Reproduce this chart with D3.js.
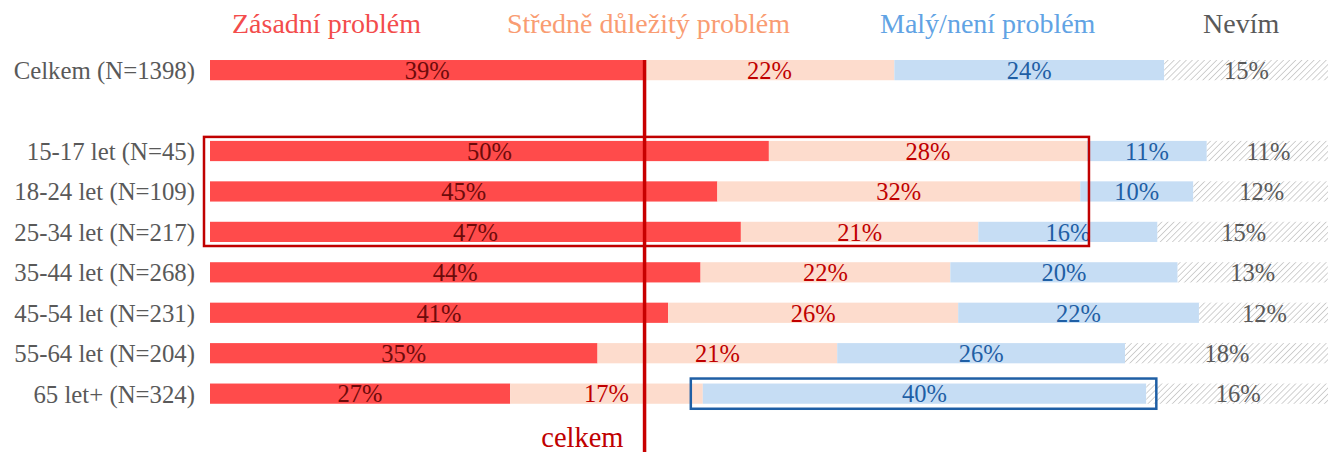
<!DOCTYPE html>
<html><head><meta charset="utf-8">
<script src="https://cdn.jsdelivr.net/npm/d3@7"></script>
<style>
html,body{margin:0;padding:0;background:#fff;}
svg{display:block;font-family:"Liberation Serif","Times New Roman",serif;}
</style></head>
<body><svg id="chart" width="1328" height="452"></svg>
<script>
// ---- data ----
const categories = ["Celkem (N=1398)", "", "15-17 let (N=45)", "18-24 let (N=109)", "25-34 let (N=217)",
  "35-44 let (N=268)", "45-54 let (N=231)", "55-64 let (N=204)", "65 let+ (N=324)"];
const seriesNames = ["Zásadní problém", "Středně důležitý problém", "Malý/není problém", "Nevím"];
const zasadni  = [38.8, null, 49.9, 45.3, 47.4, 43.8, 40.9, 34.6, 26.8];
const stredne  = [22.3, null, 28.4, 32.4, 21.2, 22.3, 25.9, 21.4, 17.2];
const maly     = [24.1, null, 10.7, 10.1, 16.0, 20.3, 21.5, 25.7, 39.6];
const nevim    = [14.7, null, 11.0, 12.2, 15.4, 13.4, 11.8, 18.2, 16.4];
const refLabel = "celkem";

// ---- style ----
const barColors   = ["#ff4b4b", "#fddccd", "#c6ddf4", "url(#hatch)"];
const labelColors = ["#6e0a0a", "#c00000", "#1f5fa5", "#595959"];
const legendColors = ["#f34c4c", "#f99c72", "#61a3e4", "#595959"];
const legendX = [232, 507, 880, 1203];

const svg = d3.select("#chart");
const defs = svg.append("defs");
const pat = defs.append("pattern").attr("id", "hatch").attr("patternUnits", "userSpaceOnUse")
  .attr("width", 4.3).attr("height", 4.3).attr("patternTransform", "rotate(45)");
pat.append("rect").attr("width", 4.3).attr("height", 4.3).attr("fill", "#fff");
pat.append("line").attr("x1", 0).attr("y1", 0).attr("x2", 0).attr("y2", 4.3)
  .attr("stroke", "#c2c2c2").attr("stroke-width", 1.5);

const x = d3.scaleLinear().domain([0, 100]).range([210, 1330]);
const y = d3.scaleBand().domain(categories.map((c, i) => i)).range([39.8, 39.8 + 9.5 * 40.44]).padding(0.5);

const series = [zasadni, stredne, maly, nevim];
const rows = categories.map((c, i) => {
  let acc = 0;
  const segs = [];
  if (zasadni[i] == null) return segs;
  series.forEach((s, k) => { segs.push({ k, x0: acc, x1: acc + s[i], v: s[i] }); acc += s[i]; });
  return segs;
});

// bars
const g = svg.append("g");
rows.forEach((segs, i) => {
  const row = g.append("g").attr("transform", `translate(0,${y(i)})`);
  row.selectAll("rect").data(segs).join("rect")
    .attr("x", d => x(d.x0)).attr("y", 0)
    .attr("width", d => x(d.x1) - x(d.x0)).attr("height", y.bandwidth())
    .attr("fill", d => barColors[d.k]);
  row.selectAll("text").data(segs).join("text")
    .attr("x", d => (x(d.x0) + Math.min(x(d.x1), 1330)) / 2)
    .attr("y", y.bandwidth() / 2).attr("dy", "0.36em")
    .attr("text-anchor", "middle").attr("font-size", 24.5)
    .attr("fill", d => labelColors[d.k])
    .text(d => Math.round(d.v) + "%");
});

// category axis
const yAxis = d3.axisLeft(y).tickSize(0).tickPadding(15).tickFormat(i => categories[i]);
const ax = svg.append("g").attr("transform", `translate(210,0)`).call(yAxis);
ax.select(".domain").remove();
ax.selectAll("text").attr("font-size", 24.8).attr("fill", "#595959")
  .attr("font-family", "Liberation Serif, serif").attr("dy", "0.36em");

// legend
svg.append("g").selectAll("text").data(seriesNames).join("text")
  .attr("x", (d, i) => legendX[i]).attr("y", 33)
  .attr("font-size", 28).attr("fill", (d, i) => legendColors[i]).text(d => d);

// boxes
svg.append("rect")
  .attr("x", x(0) - 6).attr("y", y(2) - 4)
  .attr("width", x(zasadni[2] + stredne[2]) - x(0) + 8)
  .attr("height", y(4) + y.bandwidth() + 4 - (y(2) - 4))
  .attr("fill", "none").attr("stroke", "#c00000").attr("stroke-width", 2.5);
const last = categories.length - 1;
svg.append("rect")
  .attr("x", x(zasadni[last] + stredne[last]) - 12).attr("y", y(last) - 5)
  .attr("width", x(zasadni[last] + stredne[last] + maly[last]) - x(zasadni[last] + stredne[last]) + 22)
  .attr("height", y.bandwidth() + 10)
  .attr("fill", "none").attr("stroke", "#1f5fa5").attr("stroke-width", 2.5);

// reference line
const refX = x(zasadni[0]);
svg.append("line").attr("x1", refX).attr("x2", refX).attr("y1", y(0)).attr("y2", 452)
  .attr("stroke", "#c80000").attr("stroke-width", 3.5);
svg.append("text").attr("x", refX - 21).attr("y", 447).attr("text-anchor", "end")
  .attr("font-size", 28.5).attr("fill", "#c00000").text(refLabel);
</script></body></html>
